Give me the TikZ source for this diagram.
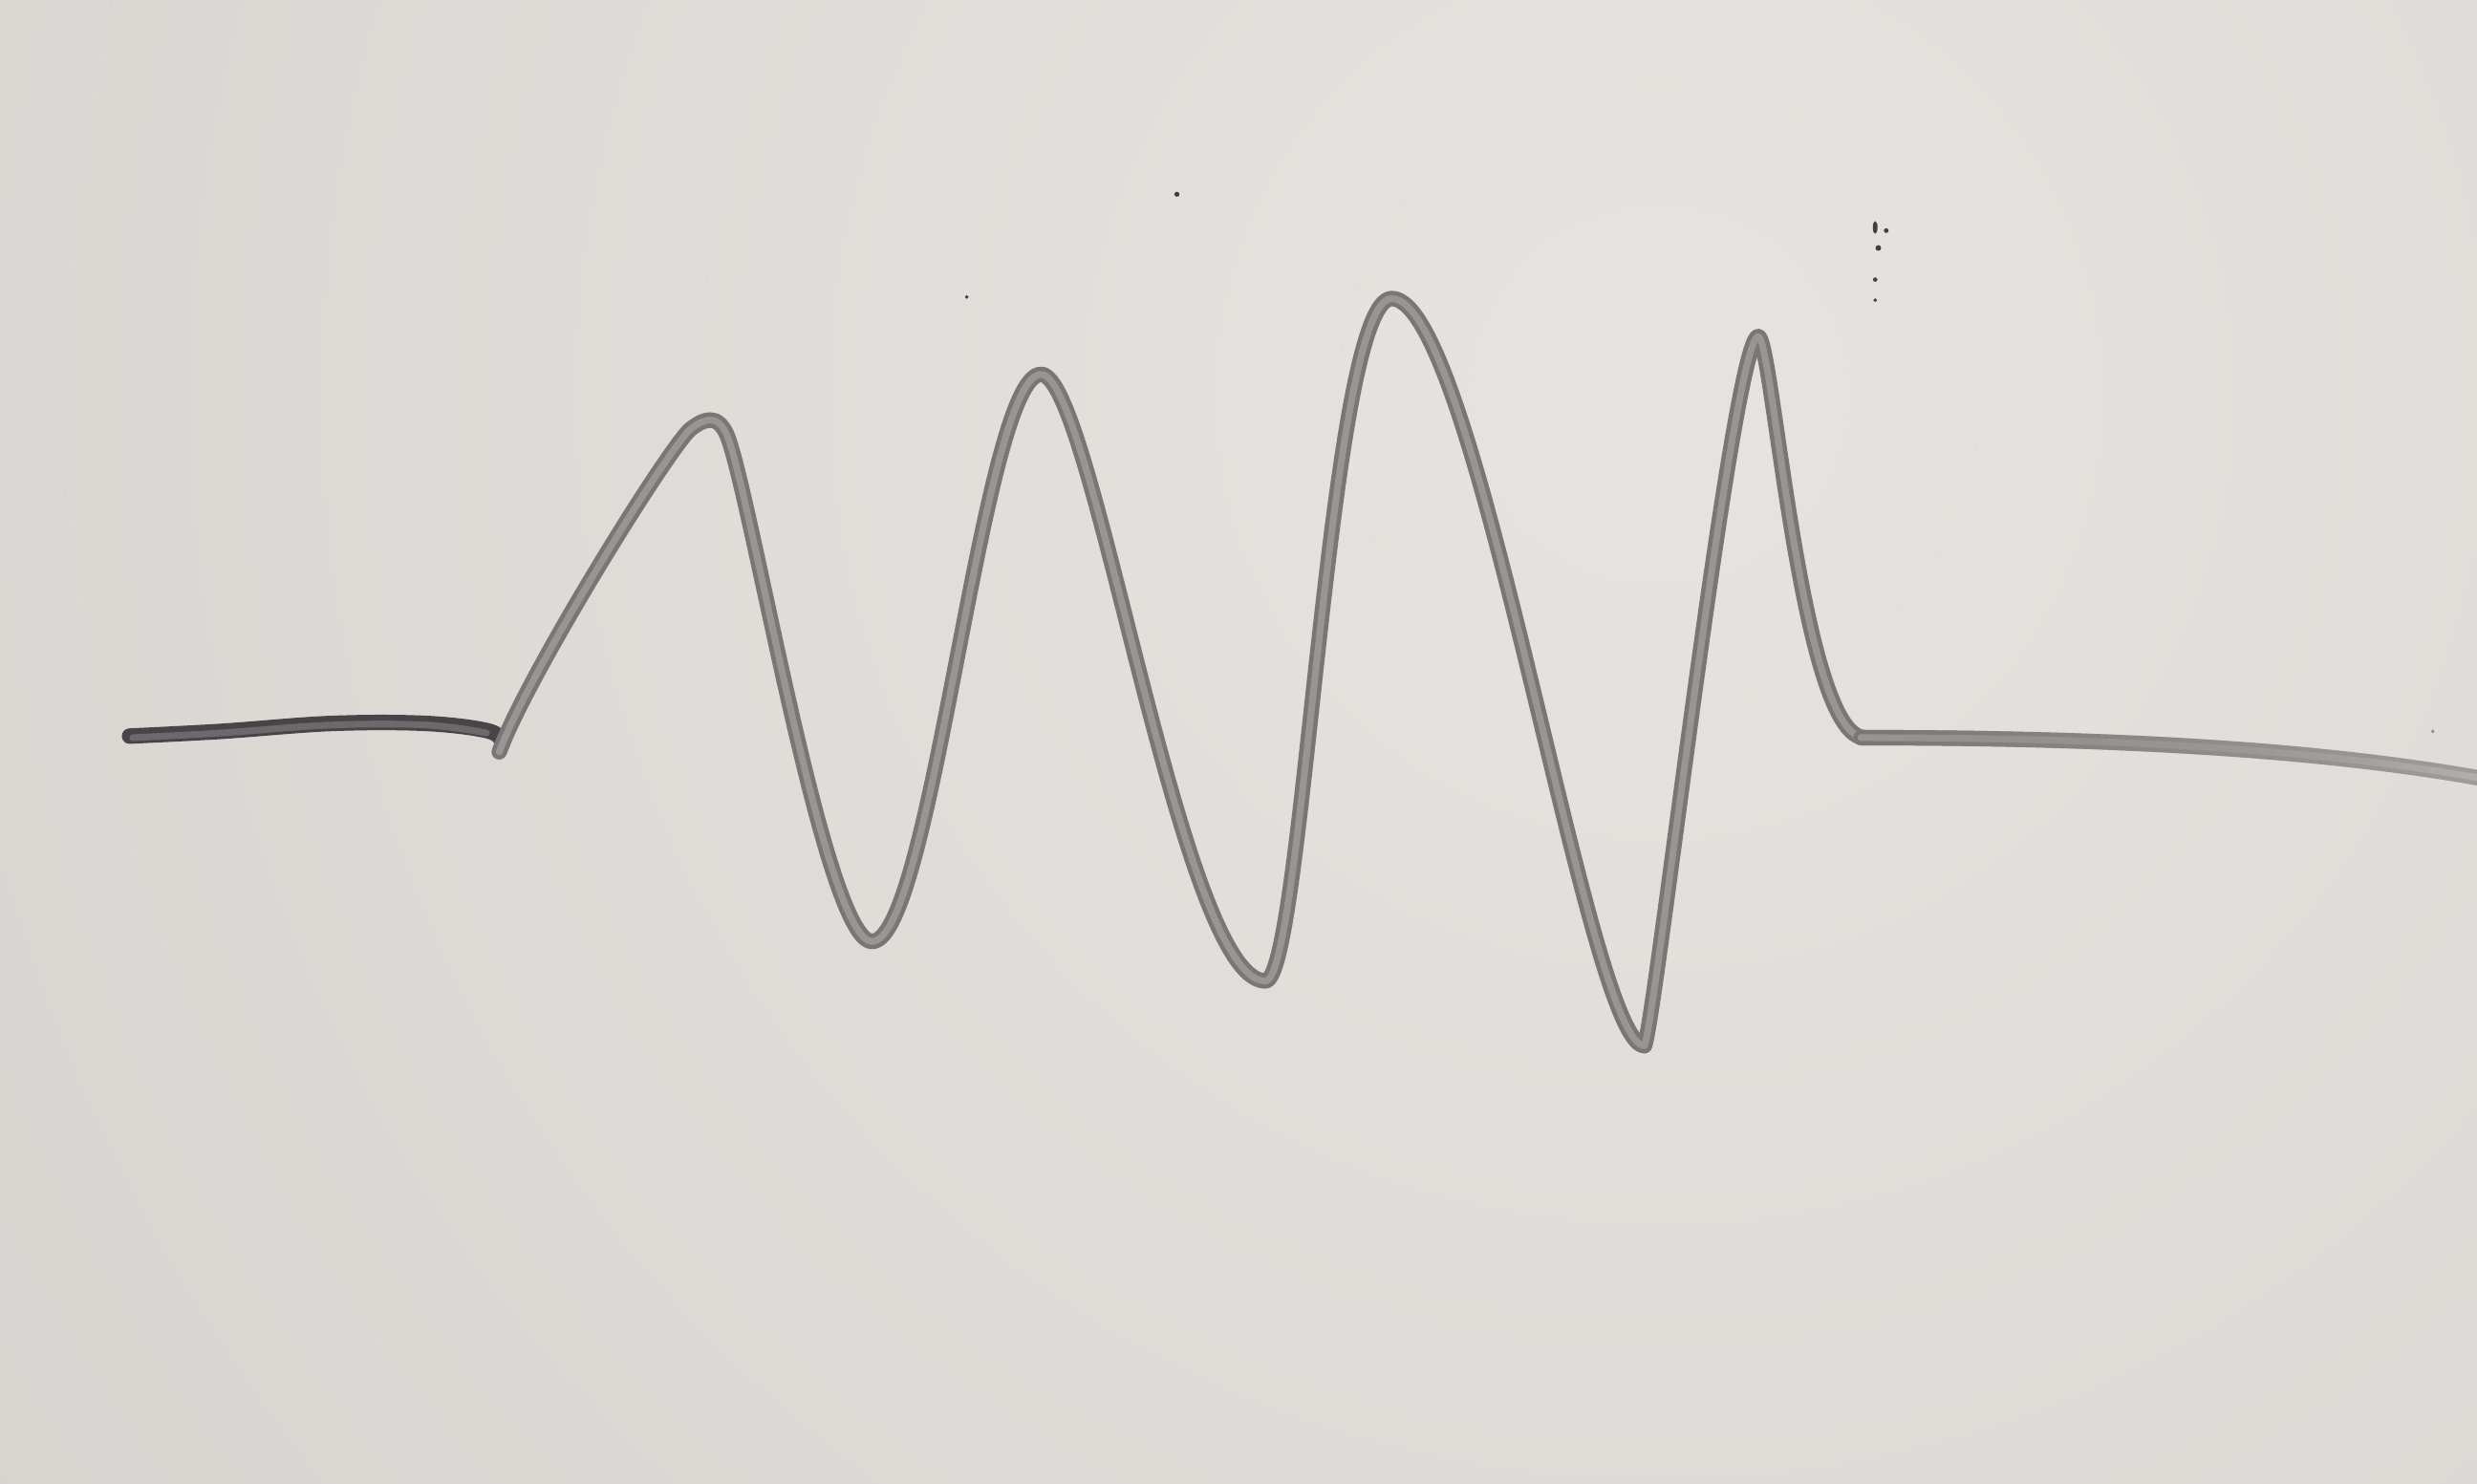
\documentclass[tikz,border=0pt]{standalone}
\usetikzlibrary{fadings}
\tikzfading[name=tailfade,left color=transparent!0,right color=transparent!100]
\begin{document}
\begin{tikzpicture}[x=0.01653cm,y=-0.01653cm,
  markerout/.style={line width=4.6pt,line cap=round,line join=round},
  markerin/.style={line width=2.0pt,line cap=round,line join=round},
  speck/.style={fill=black!75}]
\definecolor{bgbot}{RGB}{203,202,197}
\definecolor{bglight}{RGB}{229,228,224}
\definecolor{inkdark}{RGB}{72,68,72}
\definecolor{inkdarkin}{RGB}{108,104,107}
\definecolor{inkmid}{RGB}{122,118,118}
\definecolor{inkmidin}{RGB}{152,149,147}
\definecolor{inktail}{RGB}{160,157,156}
\definecolor{inktailin}{RGB}{180,178,175}
% background
\useasboundingbox (0,0) rectangle (1568,939);
\begin{scope}
\clip (0,0) rectangle (1568,939);
\shade[inner color=bglight,outer color=bgbot] (1050,250) circle (2100);
\end{scope}
% left dark segment
\draw[markerout,inkdark] plot[smooth,tension=0.6] coordinates {(82,466) (140,463) (210,458) (270,458) (310,463) (318,471)};
\draw[markerin,inkdarkin] plot[smooth,tension=0.6] coordinates {(84,467) (140,464) (210,459) (270,459) (308,464)};
% main wave
\def\wave{(316,476) .. controls (335,425) and (428,276) .. (438,271)
  .. controls (446,265) and (454,262) .. (460,275)
  .. controls (475,310) and (522,596) .. (552,596)
  .. controls (590,596) and (622,237) .. (659,237)
  .. controls (692,237) and (747,621) .. (801,621)
  .. controls (825,621) and (841,189) .. (881,189)
  .. controls (935,189) and (1005,662) .. (1041,662)
  .. controls (1048,645) and (1097,215) .. (1113,213)
  .. controls (1122,213) and (1140,465) .. (1180,467)}
\draw[markerout,inkmid] \wave;
\draw[markerin,inkmidin] \wave;
% tail that fades to the right
\def\tail{(1178,467) .. controls (1300,467) and (1450,471) .. (1572,493)}
\draw[markerout,inktail] \tail;
\draw[markerin,inktailin] \tail;
\draw[markerout,inkmid,path fading=tailfade,fit fading=true] \tail;
\draw[markerin,inkmidin,path fading=tailfade,fit fading=true] \tail;
% specks on the board
\fill[speck] (745,123) circle (1.6);
\fill[speck] (612,188) circle (1.2);
\fill[speck] (1187,144) ellipse [x radius=1.5,y radius=4];
\fill[speck] (1194,146) circle (1.5);
\fill[speck] (1189,157) circle (1.8);
\fill[speck] (1187,177) circle (1.4);
\fill[speck] (1187,190) circle (1.2);
\fill[speck,opacity=0.5] (1540,463) circle (1.2);
\end{tikzpicture}
\end{document}
